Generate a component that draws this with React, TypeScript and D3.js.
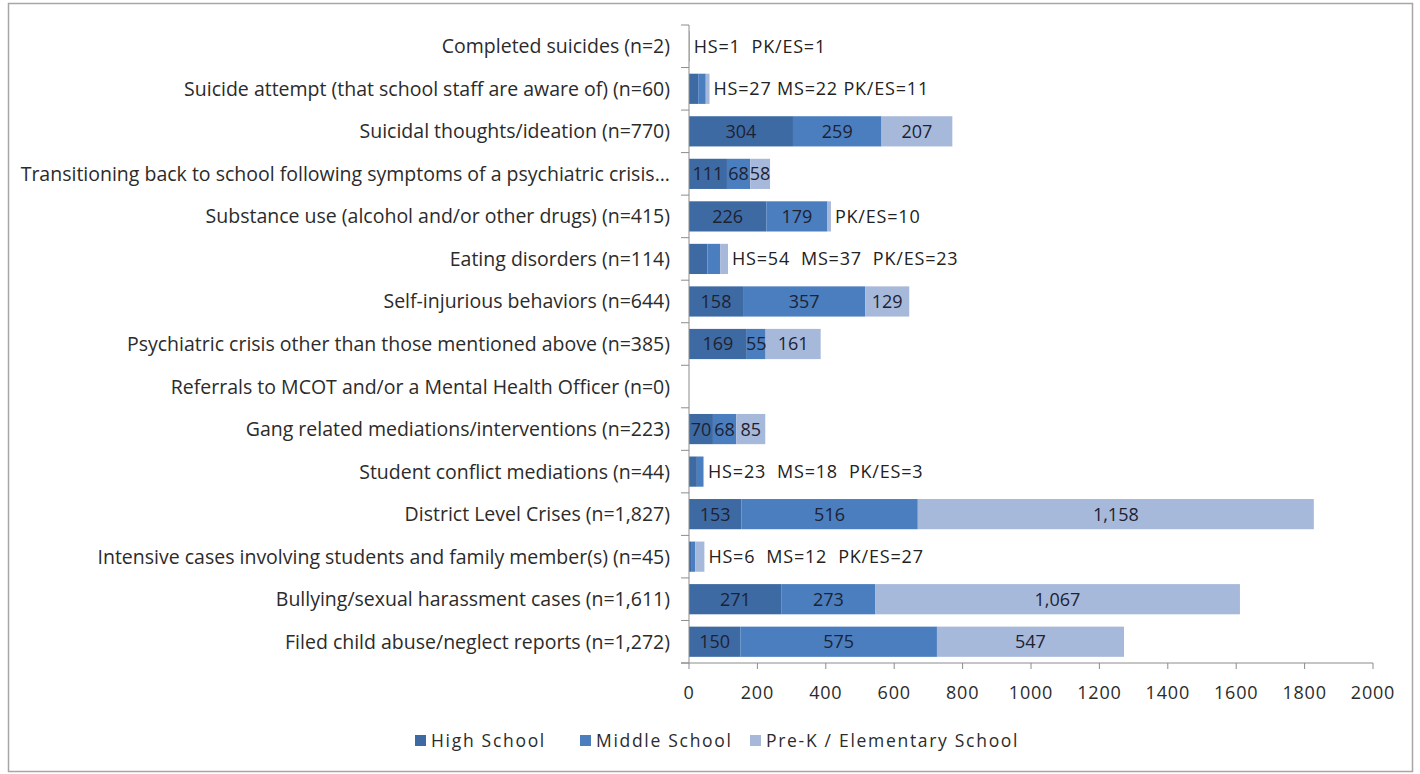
import { useMemo } from 'react';
import * as d3 from 'd3';

const categories = [
	'Completed suicides (n=2)',
	'Suicide attempt (that school staff are aware of) (n=60)',
	'Suicidal thoughts/ideation (n=770)',
	'Transitioning back to school following symptoms of a psychiatric crisis...',
	'Substance use (alcohol and/or other drugs) (n=415)',
	'Eating disorders (n=114)',
	'Self-injurious behaviors (n=644)',
	'Psychiatric crisis other than those mentioned above (n=385)',
	'Referrals to MCOT and/or a Mental Health Officer (n=0)',
	'Gang related mediations/interventions (n=223)',
	'Student conflict mediations (n=44)',
	'District Level Crises (n=1,827)',
	'Intensive cases involving students and family member(s) (n=45)',
	'Bullying/sexual harassment cases (n=1,611)',
	'Filed child abuse/neglect reports (n=1,272)',
];

const highSchool = [1, 27, 304, 111, 226, 54, 158, 169, 0, 70, 23, 153, 6, 271, 150];
const middleSchool = [0, 22, 259, 68, 179, 37, 357, 55, 0, 68, 18, 516, 12, 273, 575];
const preKElementary = [1, 11, 207, 58, 10, 23, 129, 161, 0, 85, 3, 1158, 27, 1067, 547];

// which segments get a value label inside the bar
const showInside = [
	[false, false, false],
	[false, false, false],
	[true, true, true],
	[true, true, true],
	[true, true, false],
	[false, false, false],
	[true, true, true],
	[true, true, true],
	[false, false, false],
	[true, true, true],
	[false, false, false],
	[true, true, true],
	[false, false, false],
	[true, true, true],
	[true, true, true],
];

// text written after the end of the bar
const outsideNotes = [
	'HS=1  PK/ES=1',
	'HS=27 MS=22 PK/ES=11',
	'',
	'',
	'PK/ES=10',
	'HS=54  MS=37  PK/ES=23',
	'',
	'',
	'',
	'',
	'HS=23  MS=18  PK/ES=3',
	'',
	'HS=6  MS=12  PK/ES=27',
	'',
	'',
];

const xTicks = [0, 200, 400, 600, 800, 1000, 1200, 1400, 1600, 1800, 2000];
const seriesNames = ['High School', 'Middle School', 'Pre-K / Elementary School'];
const seriesColors = ['#3e6aa4', '#4a7ebf', '#a7b9da'];

const W = 1420;
const H = 774;
const margin = { top: 25, right: 47, bottom: 111, left: 689 };
const FONT = '"Open Sans", "Noto Sans", sans-serif';

export default function App() {
	const innerW = W - margin.left - margin.right;
	const innerH = H - margin.top - margin.bottom;

	const x = useMemo(() => d3.scaleLinear().domain([0, 2000]).range([0, innerW]), [innerW]);
	const y = useMemo(
		() => d3.scaleBand().domain(categories).range([0, innerH]).paddingInner(0.29).paddingOuter(0.145),
		[innerH],
	);

	const rows = categories.map((c, i) => ({
		cat: c,
		values: [highSchool[i], middleSchool[i], preKElementary[i]],
	}));

	const stack = d3
		.stack<any>()
		.keys(['0', '1', '2'])
		.value((d, k) => d.values[+k])(rows);

	const fmt = d3.format(',');
	const step = innerH / categories.length;

	return (
		<svg width={W} height={H} style={{ position: 'absolute', left: 0, top: 0, fontFamily: FONT }}>
			<rect x={8.5} y={3.5} width={1404} height={768} fill="#fff" stroke="#a6a6a6" strokeWidth={1.5} />
			<g transform={`translate(${margin.left},${margin.top})`}>
				{stack.map((layer, si) =>
					layer.map((seg, ci) => (
						<rect
							key={`${si}-${ci}`}
							x={x(seg[0])}
							y={y(categories[ci])}
							width={Math.max(0, x(seg[1]) - x(seg[0]))}
							height={y.bandwidth()}
							fill={seriesColors[si]}
						/>
					)),
				)}
				{stack.map((layer, si) =>
					layer.map((seg, ci) =>
						showInside[ci][si] ? (
							<text
								key={`t${si}-${ci}`}
								x={(x(seg[0]) + x(seg[1])) / 2}
								y={y(categories[ci])! + y.bandwidth() / 2}
								dy="0.36em"
								textAnchor="middle"
								fontSize={18}
								fill="#1d2233"
							>
								{fmt(seg[1] - seg[0])}
							</text>
						) : null,
					),
				)}
				{outsideNotes.map((note, ci) =>
					note ? (
						<text
							key={`n${ci}`}
							x={x(highSchool[ci] + middleSchool[ci] + preKElementary[ci]) + 4}
							y={y(categories[ci])! + y.bandwidth() / 2}
							dy="0.36em"
							fontSize={18}
							letterSpacing={0.8}
							fill="#222"
							style={{ whiteSpace: 'pre' }}
						>
							{note}
						</text>
					) : null,
				)}
				{/* category axis */}
				<line x1={0} x2={0} y1={0} y2={innerH} stroke="#8c8c8c" />
				{d3.range(categories.length + 1).map((i) => (
					<line key={`ct${i}`} x1={-8} x2={0} y1={i * step} y2={i * step} stroke="#8c8c8c" />
				))}
				{categories.map((c) => (
					<text
						key={c}
						x={-19}
						y={y(c)! + y.bandwidth() / 2}
						dy="0.36em"
						textAnchor="end"
						fontSize={19.5}
						fill="#2b2b2b"
					>
						{c}
					</text>
				))}
				{/* value axis */}
				<line x1={-8} x2={innerW} y1={innerH} y2={innerH} stroke="#8c8c8c" />
				{xTicks.map((t) => (
					<g key={t} transform={`translate(${x(t)},${innerH})`}>
						<line y1={0} y2={6} stroke="#8c8c8c" />
						<text y={36} textAnchor="middle" fontSize={18} letterSpacing={0.8} fill="#2b2b2b">
							{t}
						</text>
					</g>
				))}
			</g>
			{/* legend */}
			{seriesNames.map((name, i) => {
				const lx = [415, 580, 750][i];
				return (
					<g key={name} transform={`translate(${lx},741)`}>
						<rect x={0} y={-6} width={11} height={11} fill={seriesColors[i]} />
						<text x={16} y={0} dy="0.36em" fontSize={17.5} letterSpacing={1.7} fill="#2b2b2b">
							{name}
						</text>
					</g>
				);
			})}
		</svg>
	);
}
